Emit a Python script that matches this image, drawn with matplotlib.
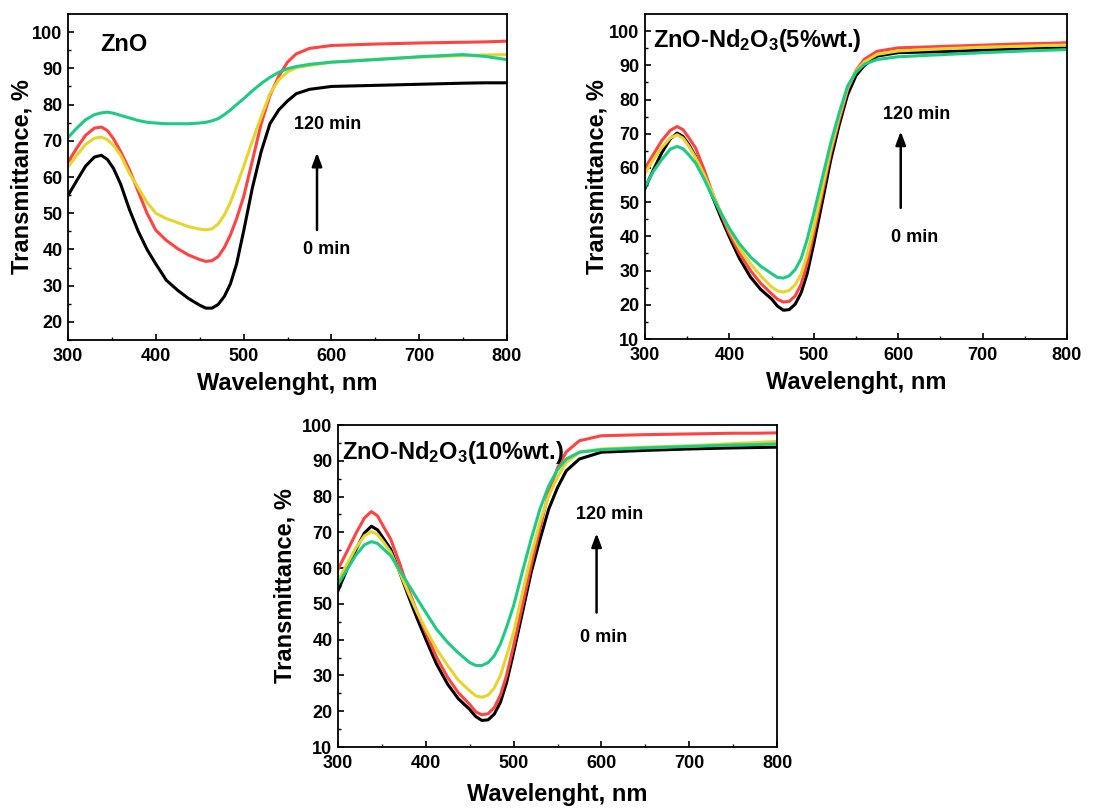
import matplotlib
matplotlib.use("Agg")
import matplotlib.pyplot as plt

plt.rcParams['font.family'] = ['Liberation Sans', 'DejaVu Sans']
plt.rcParams['font.weight'] = 'bold'
plt.rcParams['mathtext.fontset'] = 'custom'
plt.rcParams['mathtext.rm'] = 'Liberation Sans:bold'
plt.rcParams['mathtext.bf'] = 'Liberation Sans:bold'
plt.rcParams['mathtext.it'] = 'Liberation Sans:bold'

wavelength = [300, 310, 320, 330, 338, 345, 352, 360, 370, 380, 390, 400, 412, 425, 437, 450,
              457, 464, 471, 478, 485, 492, 500, 510, 520, 530, 540, 550, 560, 575, 600, 650,
              700, 750, 775, 800]

# Panel 1: ZnO
zno_black = [54.9, 59, 63, 65.5, 66, 64.8, 62.3, 58, 51, 45, 40, 36, 31.5, 28.7, 26.5, 24.6,
             23.8, 23.8, 24.8, 27, 30.5, 36, 45, 57, 67, 74.7, 78.5, 81, 83, 84.2, 85, 85.3,
             85.6, 85.9, 86, 86]
zno_red = [64.1, 68, 71.5, 73.5, 73.8, 72.8, 70.5, 67, 62, 56, 50, 45.3, 42.5, 40.2, 38.5, 37.2,
           36.7, 36.9, 38, 40.5, 44, 48.5, 54.5, 64.5, 74.7, 82.5, 87.8, 91.7, 94, 95.5, 96.3, 96.7,
           97, 97.2, 97.3, 97.5]
zno_yellow = [62.8, 66, 69, 70.7, 71, 70.3, 68.7, 66, 61, 57, 53, 50, 48.5, 47.4, 46.3, 45.6,
              45.4, 45.7, 47, 49.5, 53, 57.5, 62.8, 70, 76.6, 83, 86.8, 89, 90.2, 90.8, 91.7, 92.5,
              93.1, 93.5, 93.7, 93.8]
zno_green = [70.9, 73.5, 75.8, 77.2, 77.7, 77.9, 77.6, 77, 76.3, 75.6, 75.1, 74.9, 74.7, 74.7, 74.7, 74.9,
             75.1, 75.5, 76.1, 77.2, 78.5, 80, 81.6, 83.8, 85.8, 87.5, 88.9, 89.9, 90.5, 91.1, 91.7, 92.4,
             93.2, 93.8, 93.3, 92.4]

# Panel 2: ZnO-Nd2O3 (5%wt.)
nd5_black = [54, 59.5, 64.5, 68.5, 70.2, 69.2, 66.8, 63.3, 57.5, 51.6, 45.5, 39.8, 33.5, 28.1, 24.5, 21.7,
             19.6, 18.4, 18.6, 20.2, 23.5, 29, 37.9, 50, 62.3, 72.5, 81.4, 87, 90, 92.7, 93.7, 94,
             94.4, 94.8, 95, 95.1]
nd5_red = [59.9, 64, 68, 71, 72.1, 71.2, 68.8, 65.8, 59.5, 52.6, 46.5, 40.8, 35, 30, 26.3, 23.2,
           21.6, 20.8, 21, 22.6, 26, 32, 40.8, 52.5, 64.3, 74, 82.9, 88.5, 91.8, 94.1, 95.1, 95.5,
           95.9, 96.3, 96.4, 96.6]
nd5_yellow = [58.4, 62.5, 66, 68.8, 69.7, 68.7, 66.3, 63, 58, 52.6, 47, 41.8, 36.5, 32, 28.5, 25.2,
              24.1, 23.7, 24.2, 25.9, 29, 34.5, 42.8, 54, 65.3, 75, 83.4, 88.3, 91, 93.2, 94.2, 94.8,
              95.3, 95.6, 95.8, 95.9]
nd5_green = [54.5, 59, 62.5, 65.5, 66.3, 65.6, 63.8, 61.4, 56.8, 51.6, 46.8, 42.3, 37.8, 34, 31.3, 29.1,
             28, 27.8, 28.5, 30.3, 33.5, 39, 46.7, 57, 67.2, 76, 83.9, 88, 90.3, 91.7, 92.5, 93.1,
             93.7, 94.2, 94.4, 94.6]

# Panel 3: ZnO-Nd2O3 (10%wt.)
nd10_black = [53.7, 59.5, 65, 69.8, 71.7, 70.7, 68.2, 65.3, 59, 52.3, 46, 40.1, 33.3, 27.5, 23.5, 20.5,
              18.5, 17.4, 17.6, 19.2, 22.5, 28, 36.4, 47.5, 58.8, 68, 76.5, 82.5, 87.2, 90.5, 92.4, 92.9,
              93.3, 93.6, 93.7, 93.8]
nd10_red = [59.7, 64.5, 69.5, 74, 75.8, 74.6, 71.5, 68.1, 61.5, 54.1, 47.8, 42, 35.2, 29.4, 25.2, 21.9,
            19.8, 19, 19.3, 21, 24.5, 30, 38.3, 49.5, 60.7, 71, 81.2, 88, 92.5, 95.6, 97, 97.3,
            97.5, 97.7, 97.7, 97.8]
nd10_yellow = [56.5, 61, 65.5, 69, 70.2, 69.4, 67.2, 64.4, 59, 53.2, 47.8, 42.9, 37.5, 32.7, 28.7, 25.7,
               24.3, 23.9, 24.5, 26.5, 30, 35.5, 42, 53, 63.5, 72.8, 80.2, 85.5, 89.5, 92.4, 93.3, 93.8,
               94.2, 94.8, 95.1, 95.4]
nd10_green = [55.5, 59.5, 63.5, 66.5, 67.4, 66.9, 65.3, 63.5, 59.5, 55.5, 51.5, 47.6, 43, 39.2, 36.3, 33.6,
              32.8, 32.8, 33.6, 35.5, 38.8, 43.5, 49.5, 59, 68.1, 76.5, 83, 87.5, 90.5, 92.4, 93.1, 93.6,
              94, 94.4, 94.5, 94.7]

titles = ["ZnO", r"ZnO-Nd$_2$O$_3$(5%wt.)", r"ZnO-Nd$_2$O$_3$(10%wt.)"]
series = [
    [zno_black, zno_red, zno_yellow, zno_green],
    [nd5_black, nd5_red, nd5_yellow, nd5_green],
    [nd10_black, nd10_red, nd10_yellow, nd10_green],
]
colors = ["#000000", "#ff4343", "#e6d52c", "#1ecb84"]
ylims = [(15, 105), (10, 105), (10, 100)]
yticks = [list(range(20, 101, 10)), list(range(10, 101, 10)), list(range(10, 101, 10))]

W, H = 1113, 809
fig = plt.figure(figsize=(W / 100, H / 100), dpi=100)

boxes = [(68, 507, 14, 340), (645, 1067, 14, 339), (338, 777, 425, 747)]
title_pos = [(0.073, 0.905), (0.019, 0.92), (0.009, 0.916)]
ylab_x = [-0.105, -0.114, -0.121]
xlab_y = [-0.132, -0.135, -0.149]
arrows = [((583.6, 44.6), (583.6, 67.5)), ((603, 47.5), (603, 71.5)), ((594.5, 46.8), (594.5, 70.5))]
t120 = [(596, 74.6), (622, 75.6), (609.7, 75.1)]
t0 = [(595, 39.9), (619.7, 39.6), (602, 40.6)]

for i in range(3):
    l, r, t, b = boxes[i]
    ax = fig.add_axes([l / W, 1 - b / H, (r - l) / W, (b - t) / H])
    for s, c in zip(series[i], colors):
        ax.plot(wavelength, s, color=c, lw=2.2, solid_joinstyle='round')
    ax.set_xlim(300, 800)
    ax.set_ylim(*ylims[i])
    ax.set_xticks([300, 400, 500, 600, 700, 800])
    ax.set_xticks(range(350, 800, 100), minor=True)
    ax.set_yticks(yticks[i])
    ax.set_yticks([v + 5 for v in yticks[i][:-1]] + ([15] if i == 0 else []), minor=True)
    ax.tick_params(which='major', direction='in', length=4, width=1.2, labelsize=13)
    ax.tick_params(axis='x', which='major', pad=6)
    ax.tick_params(axis='y', which='major', pad=4)
    ax.tick_params(which='minor', direction='in', length=2.5, width=1.0)
    for lab in ax.get_xticklabels() + ax.get_yticklabels():
        lab.set_fontweight('bold')
    for sp in ax.spines.values():
        sp.set_linewidth(1.3)
    ax.set_xlabel("Wavelenght, nm", fontsize=17, fontweight='bold', va='center')
    ax.set_ylabel("Transmittance, %", fontsize=17, fontweight='bold', va='center')
    ax.xaxis.set_label_coords(0.5, xlab_y[i])
    ax.yaxis.set_label_coords(ylab_x[i], 0.5)
    ax.text(title_pos[i][0], title_pos[i][1], titles[i], transform=ax.transAxes,
            fontsize=17, fontweight='bold', ha='left', va='center')
    ax.annotate("", xy=arrows[i][1], xytext=arrows[i][0],
                arrowprops=dict(arrowstyle='-|>,head_length=0.8,head_width=0.3', color='black', lw=1.8))
    ax.text(*t120[i], "120 min", fontsize=13, fontweight='bold', ha='center', va='center')
    ax.text(*t0[i], "0 min", fontsize=13, fontweight='bold', ha='center', va='center')

fig.savefig("out.png", dpi=100)
